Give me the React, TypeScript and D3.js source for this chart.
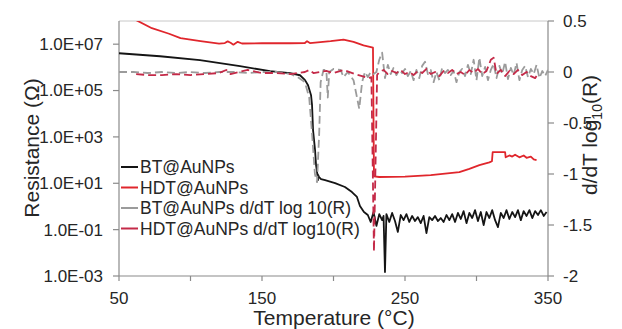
import React from 'react';
import * as d3 from 'd3';

// ---- data ----
const btTemp = [50, 78.7, 106.6, 134.6, 155.6, 169.6, 176.6, 180.1, 182.2, 184.3, 185.0, 185.7, 187.1, 187.8, 188.5, 189.2, 188.8, 189.9, 191.3, 194.1, 201.1, 208.0, 212.9, 216.4, 218.5, 221.3,
  224, 226, 228, 230, 232, 234, 235, 236, 237, 239, 241, 243, 245, 247, 249, 251, 253, 255, 257, 259, 261, 263, 265, 267, 269, 271, 273, 275, 277, 279, 281, 283, 285, 287, 289, 291, 293, 295, 297, 299, 301, 303, 305, 307, 309, 311, 313, 315, 317, 319, 321, 323, 325, 327, 329, 331, 333, 335, 337, 339, 341, 343, 345, 347, 349];
const btLogR = [6.61, 6.48, 6.31, 6.05, 5.84, 5.75, 5.66, 5.45, 5.23, 4.80, 4.37, 3.29, 2.43, 1.78, 1.48, 1.14, 1.40, 1.27, 1.18, 1.14, 1.01, 0.84, 0.62, 0.41, 0.02, -0.24,
  -0.37, -0.67, -0.24, -0.84, -0.33, -0.59, -0.41, -2.83, -0.33, -0.67, -0.28, -0.63, -1.10, -0.37, -0.59, -0.33, -0.67, -0.41, -0.63, -0.46, -0.72, -0.41, -1.15, -0.46, -0.59, -0.41, -0.63, -0.50, -0.67, -0.37, -0.59, -0.33, -0.67, -0.28, -0.54, -0.20, -0.72, -0.28, -0.50, -0.16, -0.63, -0.24, -0.80, -0.24, -0.50, -0.16, -0.59, -0.89, -0.28, -0.50, -0.16, -0.54, -0.24, -0.46, -0.16, -0.59, -0.20, -0.41, -0.16, -0.50, -0.20, -0.37, -0.16, -0.41, -0.24];

const hdtTemp = [60, 73, 85, 93, 107, 120, 124, 126, 128, 130, 133, 136, 150, 170, 180, 181.5, 183.5, 198, 207, 214, 221, 227.6, 228.3, 232, 250, 268, 288, 295, 302, 309, 310.8, 311.3, 320, 320.4, 323, 325, 327, 330, 333, 335, 338, 340, 342];
const hdtLogR = [8.1, 7.69, 7.45, 7.26, 7.13, 7.02, 7.05, 7.12, 7.06, 6.98, 7.1, 7.03, 7.04, 7.04, 7.05, 7.13, 7.05, 7.13, 7.2, 7.1, 6.95, 6.85, 1.3, 1.27, 1.29, 1.35, 1.48, 1.62, 1.78, 1.9, 1.95, 2.34, 2.34, 2.12, 2.2, 2.15, 2.23, 2.12, 2.2, 2.1, 2.15, 2.03, 2.0];

const btdTemp = [50, 60, 70, 80, 90, 100, 110, 120, 130, 140, 150, 160, 170, 175, 180, 183, 185, 187, 188.5, 190, 191, 193, 195, 196, 197, 200, 205, 207, 210, 214, 216, 218, 220, 222, 224, 226, 228,
  230, 232, 234, 236, 238, 240, 242, 244, 246, 248, 250, 252, 254, 256, 258, 260, 262, 264, 266, 268, 270, 272, 274, 276, 278, 280, 282, 284, 286, 288, 290, 292, 294, 296, 298, 300, 302, 304, 306, 308, 310, 312, 314, 316, 318, 320, 322, 324, 326, 328, 330, 332, 334, 336, 338, 340, 342, 344, 346, 348, 350];
const btdVal = [0, 0, -0.01, 0, -0.01, 0, -0.01, 0, 0, -0.01, 0, 0, -0.02, -0.05, -0.1, -0.25, -0.6, -1.0, -1.08, -0.6, -0.1, 0.02, 0.02, -0.25, 0, 0.03, 0.02, -0.05, 0, -0.08, -0.22, -0.36, -0.1, 0, -0.05, 0, -0.02,
  0, 0.12, 0.19, -0.06, 0.07, -0.02, 0.04, -0.03, 0.02, -0.01, 0.03, -0.04, 0.01, -0.08, 0.02, -0.06, 0.06, 0.10, -0.02, 0.02, -0.10, 0, -0.08, 0.04, -0.01, 0.02, -0.03, 0.01, -0.10, 0, 0.03, -0.04, 0.07, -0.02, 0.12, -0.08, 0.14, -0.04, 0.05, -0.08, 0.02, 0.08, -0.06, 0.06, -0.02, 0.10, -0.07, 0.04, -0.03, 0.09, -0.08, 0.02, 0.06, -0.05, 0.03, -0.02, 0.07, -0.06, 0.01, -0.04, 0.02];

const hdtdTemp = [62, 70, 80, 90, 100, 110, 120, 125, 128, 140, 150, 160, 170, 180, 183, 186, 195, 200, 207, 215, 220, 224, 226.5, 228.3, 230.5,
  232, 235, 238, 241, 244, 247, 250, 253, 256, 259, 262, 265, 268, 271, 274, 277, 280, 283, 286, 289, 292, 295, 298, 301, 304, 307, 310, 312, 314, 317, 320, 323, 326, 329, 332, 335, 338, 341, 342];
const hdtdVal = [-0.02, -0.03, -0.03, -0.02, -0.03, -0.02, -0.01, 0.02, -0.02, 0.02, -0.01, -0.01, -0.02, 0, 0.02, -0.01, 0.01, -0.01, 0.02, -0.02, -0.04, -0.06, -0.05, -1.76, -0.03,
  0, 0.02, -0.02, 0.01, -0.01, 0.02, -0.02, 0, -0.03, 0.01, -0.01, 0.03, -0.02, 0, -0.04, 0.01, -0.01, 0.02, -0.02, 0, -0.03, 0.02, -0.01, 0.03, -0.02, 0.01, 0.12, 0.14, -0.02, 0.02, -0.04, 0.01, -0.02, 0.02, -0.03, 0, -0.04, -0.06, -0.04];

const leftTickValues = [1e-3, 1e-1, 1e1, 1e3, 1e5, 1e7];
const leftTickLabels = ['1.0E-03', '1.0E-01', '1.0E+01', '1.0E+03', '1.0E+05', '1.0E+07'];
const rightTickValues = [-2, -1.5, -1, -0.5, 0, 0.5];
const rightTickLabels = ['-2', '-1.5', '-1', '-0.5', '0', '0.5'];
const xTickValues = [50, 100, 150, 200, 250, 300, 350];
const xLabelValues = [50, 150, 250, 350];

const legendNames = ['BT@AuNPs', 'HDT@AuNPs', 'BT@AuNPs d/dT log 10(R)', 'HDT@AuNPs d/dT log10(R)'];

const FONT = "'Liberation Sans', Arial, sans-serif";
const C_BLACK = '#151515';
const C_RED = '#e0262c';
const C_GRAY = '#9b9b9b';
const C_CRIMSON = '#c42a48';

export default function App() {
  const W = 622, H = 329;
  const L = 119, R = 548, T = 21, B = 276;
  const x = d3.scaleLinear().domain([50, 350]).range([L, R]);
  const yL = d3.scaleLog().domain([1e-3, 1e8]).range([B, T]);
  const yR = d3.scaleLinear().domain([-2, 0.5]).range([B, T]);

  const lineLog = d3.line<[number, number]>().x(d => x(d[0])).y(d => yL(Math.pow(10, d[1])));
  const lineLin = d3.line<[number, number]>().x(d => x(d[0])).y(d => yR(d[1]));

  const zip = (a: number[], b: number[]) => a.map((v, i) => [v, b[i]] as [number, number]);

  const series = [
    { d: lineLog(zip(btTemp, btLogR)), color: C_BLACK, dash: undefined, w: 1.8 },
    { d: lineLog(zip(hdtTemp, hdtLogR)), color: C_RED, dash: undefined, w: 1.8 },
    { d: lineLin(zip(btdTemp, btdVal)), color: C_GRAY, dash: '8,4', w: 1.8 },
    { d: lineLin(zip(hdtdTemp, hdtdVal)), color: C_CRIMSON, dash: '8,4', w: 1.8 },
  ];
  const legendColors = [C_BLACK, C_RED, C_GRAY, C_CRIMSON];
  const legendY = [167, 187.5, 208, 228.5];

  return (
    <svg width={W} height={H} style={{ position: 'absolute', left: 0, top: 0, background: '#fff' }} fontFamily={FONT}>
      <defs>
        <clipPath id="plot">
          <rect x={L} y={T} width={R - L} height={B - T} />
        </clipPath>
      </defs>
      <rect x={0} y={0} width={W} height={H} fill="#fff" />
      {/* frame */}
      <line x1={L} x2={R} y1={T} y2={T} stroke="#c8c8c8" strokeWidth={1} />
      <line x1={L} x2={L} y1={T} y2={B} stroke="#8a8a8a" strokeWidth={1.2} />
      <line x1={R} x2={R} y1={T} y2={B} stroke="#8a8a8a" strokeWidth={1.2} />
      <line x1={L} x2={R} y1={B} y2={B} stroke="#8a8a8a" strokeWidth={1.2} />
      {/* left ticks */}
      {leftTickValues.map((v, i) => (
        <g key={'l' + i}>
          <line x1={L - 6} x2={L} y1={yL(v)} y2={yL(v)} stroke="#8a8a8a" strokeWidth={1.2} />
          <text x={L - 16} y={yL(v)} dy="0.35em" textAnchor="end" fontSize={17} fill="#262626">{leftTickLabels[i]}</text>
        </g>
      ))}
      {/* right ticks */}
      {rightTickValues.map((v, i) => (
        <g key={'r' + i}>
          <line x1={R} x2={R + 6} y1={yR(v)} y2={yR(v)} stroke="#8a8a8a" strokeWidth={1.2} />
          <text x={R + 15} y={yR(v)} dy="0.35em" textAnchor="start" fontSize={17} fill="#262626">{rightTickLabels[i]}</text>
        </g>
      ))}
      {/* x ticks */}
      {xTickValues.map((v, i) => (
        <line key={'x' + i} x1={x(v)} x2={x(v)} y1={B} y2={B + 5} stroke="#8a8a8a" strokeWidth={1.2} />
      ))}
      {xLabelValues.map((v, i) => (
        <text key={'xl' + i} x={x(v)} y={298} dy="0.35em" textAnchor="middle" fontSize={17} fill="#262626">{String(v)}</text>
      ))}
      {/* series */}
      <g clipPath="url(#plot)">
        {series.map((s, i) => (
          <path key={'s' + i} d={s.d || ''} fill="none" stroke={s.color} strokeWidth={s.w} strokeDasharray={s.dash} strokeLinejoin="round" />
        ))}
      </g>
      {/* legend */}
      {legendNames.map((n, i) => (
        <g key={'lg' + i}>
          <line x1={121} x2={138} y1={legendY[i]} y2={legendY[i]} stroke={legendColors[i]} strokeWidth={2} />
          <text x={140} y={legendY[i]} dy="0.35em" fontSize={17.5} fill="#262626">{n}</text>
        </g>
      ))}
      {/* axis titles */}
      <text x={334} y={318} dy="0.35em" textAnchor="middle" fontSize={21} fill="#262626">Temperature (°C)</text>
      <text transform="translate(32,148) rotate(-90)" textAnchor="middle" dy="0.35em" fontSize={21} fill="#262626">Resistance (Ω)</text>
      <text transform="translate(590,135) rotate(-90)" textAnchor="middle" dy="0.35em" fontSize={21} fill="#262626">
        d/dT log<tspan fontSize={14} dy="5">10</tspan><tspan dy="-5">(R)</tspan>
      </text>
    </svg>
  );
}
